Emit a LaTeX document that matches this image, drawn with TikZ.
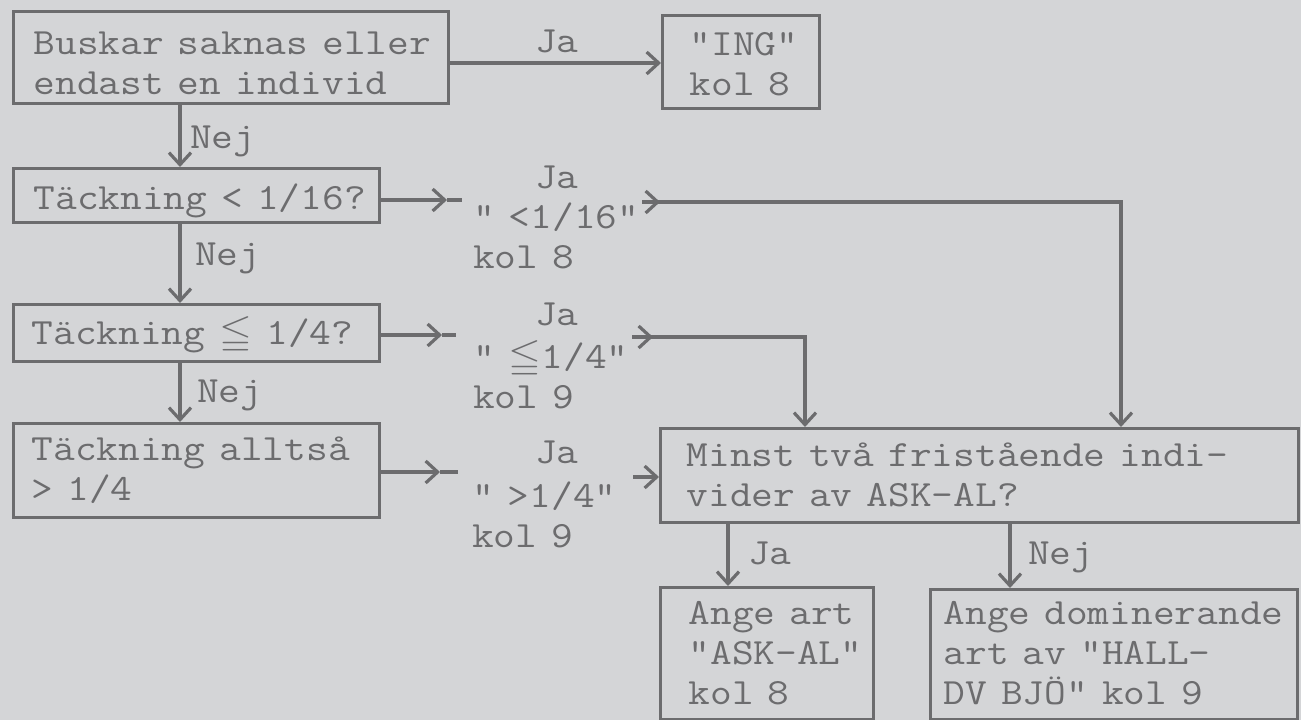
\documentclass[tikz,border=0pt]{standalone}
\usepackage{fontspec}
\usepackage{amssymb}
\usepackage{graphicx}
\usetikzlibrary{arrows.meta}
\definecolor{bgc}{RGB}{212,213,215}
\definecolor{ink}{RGB}{108,108,110}
\newcommand\bl[1]{\mbox{\scalebox{1.14}[1]{#1}}}
\begin{document}
\begin{tikzpicture}[x=1pt,y=-1pt,
  every node/.style={text=ink, font=\fontsize{37}{40}\selectfont\ttfamily},
  box/.style={draw=ink, line width=3.2pt, anchor=north west, inner ysep=0pt, align=left},
  lab/.style={anchor=base west, inner sep=0pt, align=left, text width=250pt},
  arr/.style={draw=ink, line width=3.2pt, -{Straight Barb[length=12pt,width=22pt]}},
  ln/.style={draw=ink, line width=3.2pt}
]
\fill[bgc] (0,0) rectangle (1301,720);
\useasboundingbox (0,0) rectangle (1301,720);

% boxes
\node[box, inner xsep=20pt, text width=395pt, text height=43pt, text depth=49pt] (b1) at (12,10)
  {\bl{Buskar saknas eller}\\\bl{endast en individ}};
\node[box, inner xsep=27pt, text width=103pt, text height=40pt, text depth=53pt] (ing) at (661,14)
  {\bl{"ING"}\\\bl{kol 8}};
\node[box, inner xsep=20pt, text width=326pt, text height=41pt, text depth=13pt] (b3) at (12,167)
  {\bl{Täckning < 1/16?}};
\node[box, inner xsep=18pt, text width=330pt, text height=40pt, text depth=17pt] (b4) at (12,303)
  {\bl{Täckning $\leqq$ 1/4?}};
\node[box, inner xsep=18pt, text width=330pt, text height=37pt, text depth=57pt] (b5a) at (12,422)
  {\bl{Täckning alltså}\\\bl{> 1/4}};
\node[box, inner xsep=26pt, text width=586pt, text height=38pt, text depth=56pt] (b5) at (659,427)
  {\bl{Minst två fristående indi-}\\\bl{vider av ASK-AL?}};
\node[box, inner xsep=28pt, text width=157pt, text height=37pt, text depth=95pt] (b6) at (659,586)
  {\bl{Ange art}\\\bl{"ASK-AL"}\\\bl{kol 8}};
\node[box, inner xsep=13pt, text width=341pt, text height=35pt, text depth=95pt] (b7) at (929,588)
  {\bl{Ange dominerande}\\\bl{art av "HALL-}\\\bl{DV BJÖ" kol 9}};

% labels
\node[lab] (ja0) at (535,52) {\bl{Ja}};
\node[lab] (n1) at (190,148) {\bl{Nej}};
\node[lab] (n2) at (195,265) {\bl{Nej}};
\node[lab] (n3) at (197,402) {\bl{Nej}};
\node[lab] (ja1) at (535,188) {\bl{Ja}};
\node[lab] (r1) at (473,228) {\bl{" <1/16"}\\\bl{kol 8}};
\node[lab] (ja2) at (535,325) {\bl{Ja}};
\node[lab] (r2) at (473,368) {\bl{" $\leqq$1/4"}\\\bl{kol 9}};
\node[lab] (ja3) at (535,463) {\bl{Ja}};
\node[lab] (r3) at (472,507) {\bl{" >1/4"}\\\bl{kol 9}};
\node[lab] (ja4) at (748,564) {\bl{Ja}};
\node[lab] (n4) at (1028,564) {\bl{Nej}};

% coordinates
\coordinate (Y63) at (0,63);
\coordinate (X180) at (180,0);
\coordinate (X728) at (728,0);
\coordinate (X1010) at (1010,0);
\coordinate (t1) at (447,200);
\coordinate (e1) at (462,200);
\coordinate (t2) at (442,335);
\coordinate (e2) at (456,335);
\coordinate (t3) at (440,472);
\coordinate (e3) at (458,472);
\coordinate (s1) at (642,202);
\coordinate (h1) at (660,202);
\coordinate (c1) at (1121,202);
\coordinate (s2) at (632,337);
\coordinate (h2) at (653,337);
\coordinate (c2) at (805,337);
\coordinate (s3) at (633,477);

% connectors
\draw[arr] (b1.east |- Y63) -- (ing.west |- Y63);
\draw[arr] (b1.south -| X180) -- (b3.north -| X180);
\draw[arr] (b3.south -| X180) -- (b4.north -| X180);
\draw[arr] (b4.south -| X180) -- (b5a.north -| X180);

\draw[arr] (b3.east |- t1) -- (t1);
\draw[ln] (t1) -- (e1);
\draw[arr] (b4.east |- t2) -- (t2);
\draw[ln] (t2) -- (e2);
\draw[arr] (b5a.east |- t3) -- (t3);
\draw[ln] (t3) -- (e3);

\draw[arr] (s1) -- (h1);
\draw[arr] (s1) -- (c1) -- (b5.north -| c1);
\draw[arr] (s2) -- (h2);
\draw[arr] (s2) -- (c2) -- (b5.north -| c2);
\draw[arr] (s3) -- (b5.west |- s3);

\draw[arr] (b5.south -| X728) -- (b6.north -| X728);
\draw[arr] (b5.south -| X1010) -- (b7.north -| X1010);
\end{tikzpicture}
\end{document}
